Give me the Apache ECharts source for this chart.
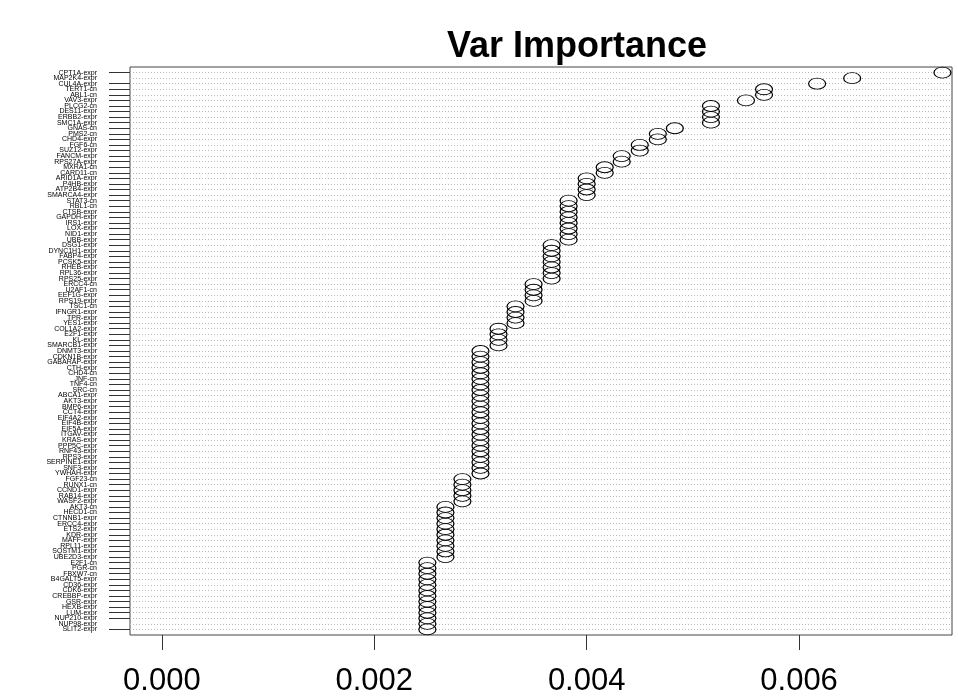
<!DOCTYPE html>
<html>
<head>
<meta charset="utf-8">
<script src="https://cdn.jsdelivr.net/npm/echarts@6/dist/echarts.min.js"></script>
<style>html,body{margin:0;padding:0;background:#fff}#c{width:958px;height:697px}</style>
</head>
<body>
<div id="c"></div>
<script>
const chartTitle = "Var Importance";
const labels = [
 "CPT1A-expr","MAP2K4-expr","CUL4A-expr","TERT1-cn","ABL1-cn","VAV3-expr","PLCG2-cn","DES11-expr","ERBB2-expr","SMC1A-expr",
 "GNAS-cn","PMS2-cn","CHD4-expr","FGF6-cn","SUZ12-expr","FANCM-expr","RPS27A-expr","MXRA1-cn","CARD11-cn","ARID1A-expr",
 "P4HB-expr","ATP2B4-expr","SMARCA4-expr","STAT3-cn","RBL1-cn","CTSB-expr","GAPDH-expr","IRS1-expr","LOX-expr","NID1-expr",
 "UBB-expr","DSG1-expr","DYNC1H1-expr","FABP4-expr","PCSK5-expr","RHEB-expr","RPL36-expr","RPS25-expr","ERCC4-cn","U2AF1-cn",
 "EEF1G-expr","RPS19-expr","TSC1-cn","IFNGR1-expr","TPR-expr","YES1-expr","COL1A2-expr","E2F1-expr","KL-expr","SMARCB1-expr",
 "DNMT3-expr","CDKN1B-expr","GABARAP-expr","CTH-expr","CHD4-cn","JNF-cn","TNF4-cn","SRC-cn","ABCA1-expr","AKT3-expr",
 "BMP6-expr","CCT4-expr","EIF4A2-expr","EIF4B-expr","EIF5A-expr","ITGAV-expr","KRAS-expr","PPP5C-expr","RNF43-expr","RPS3-expr",
 "SERPINE1-expr","SNF3-expr","YWHAH-expr","FGF23-cn","RUNX1-cn","CCND1-expr","RAB14-expr","WASF2-expr","AKT3-cn","HECD1-cn",
 "CTNNB1-expr","ERCC4-expr","ETS2-expr","KDR-expr","MAFF-expr","RPL11-expr","SQSTM1-expr","UBE2D3-expr","E2F1-cn","PGR-cn",
 "FBXW7-cn","B4GALT5-expr","CD36-expr","CDK6-expr","CREBBP-expr","GSR-expr","HEXB-expr","LUM-expr","NUP210-expr","NUP98-expr",
 "SLIT2-expr"
];
const values = [
 0.00735,0.0065,0.00617,0.00567,0.00567,0.0055,0.00517,0.00517,0.00517,0.00517,
 0.00483,0.00467,0.00467,0.0045,0.0045,0.00433,0.00433,0.00417,0.00417,0.004,
 0.004,0.004,0.004,0.00383,0.00383,0.00383,0.00383,0.00383,0.00383,0.00383,
 0.00383,0.00367,0.00367,0.00367,0.00367,0.00367,0.00367,0.00367,0.0035,0.0035,
 0.0035,0.0035,0.00333,0.00333,0.00333,0.00333,0.00317,0.00317,0.00317,0.00317,
 0.003,0.003,0.003,0.003,0.003,0.003,0.003,0.003,0.003,0.003,
 0.003,0.003,0.003,0.003,0.003,0.003,0.003,0.003,0.003,0.003,
 0.003,0.003,0.003,0.00283,0.00283,0.00283,0.00283,0.00283,0.00267,0.00267,
 0.00267,0.00267,0.00267,0.00267,0.00267,0.00267,0.00267,0.00267,0.0025,0.0025,
 0.0025,0.0025,0.0025,0.0025,0.0025,0.0025,0.0025,0.0025,0.0025,0.0025,
 0.0025
];
const xTicks = [0, 0.002, 0.004, 0.006];

const n = labels.length;
const rowPos = labels.map((_, i) => i + 1);
const labelStyle = {fontFamily: 'Liberation Sans', fontSize: 7, color: '#000', margin: 33,
  showMinLabel: true, showMaxLabel: true, hideOverlap: false,
  formatter: v => labels[Math.round(v) - 1] || ''};
const chart = echarts.init(document.getElementById('c'), null, {renderer: 'canvas'});
chart.setOption({
  animation: false,
  backgroundColor: '#fff',
  title: {
    text: chartTitle, left: 572, top: 24, textAlign: 'center',
    textStyle: {fontFamily: 'Liberation Sans', fontWeight: 'bold', fontSize: 36, color: '#000'}
  },
  grid: {left: 130, right: 6, top: 67, bottom: 61, show: true, borderColor: '#444', borderWidth: 1, containLabel: false},
  xAxis: {
    type: 'value', min: -0.0003, max: 0.00744,
    axisLine: {show: false, onZero: false},
    splitLine: {show: false},
    axisTick: {show: true, customValues: xTicks, length: 15, lineStyle: {color: '#333', width: 1}},
    axisLabel: {customValues: xTicks, showMinLabel: true, showMaxLabel: true, formatter: v => v.toFixed(3), fontFamily: 'Liberation Sans', fontSize: 31, color: '#000', margin: 31}
  },
  yAxis: [{
    type: 'value', inverse: true, min: 0, max: n + 1, interval: 1, position: 'left',
    axisLine: {show: false, onZero: false},
    splitLine: {show: true, lineStyle: {type: [1, 2], color: '#bbb', width: 1}},
    axisTick: {show: true, customValues: rowPos, length: 21, lineStyle: {color: '#333', width: 1}},
    axisLabel: Object.assign({customValues: rowPos}, labelStyle)
  }, {
    type: 'value', inverse: true, min: 0, max: n + 1, interval: 1, position: 'left', offset: 0,
    axisLine: {show: false, onZero: false},
    splitLine: {show: false},
    axisTick: {show: false},
    axisLabel: Object.assign({customValues: [2, n - 1]}, labelStyle)
  }],
  series: [{
    type: 'scatter',
    yAxisIndex: 0,
    symbol: 'circle',
    symbolSize: [17, 11],
    itemStyle: {color: 'rgba(255,255,255,0)', borderColor: '#000', borderWidth: 1, opacity: 1},
    data: values.map((v, i) => [v, i + 1])
  }]
});
</script>
</body>
</html>
